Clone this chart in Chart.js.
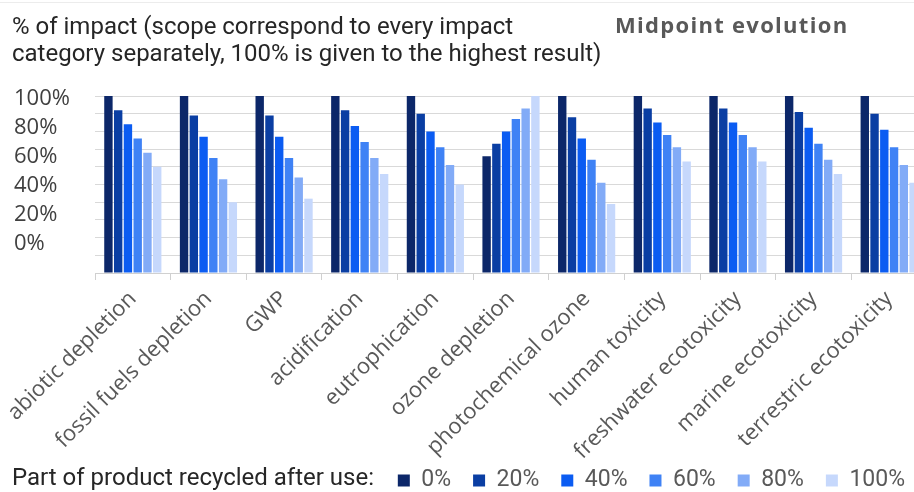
<!DOCTYPE html>
<html>
<head>
<meta charset="utf-8">
<script src="https://cdn.jsdelivr.net/npm/chart.js@4.4.1/dist/chart.umd.min.js"></script>
<style>
  html, body { margin: 0; padding: 0; background: #ffffff; overflow: hidden; }
  #wrap { position: relative; width: 927px; height: 492px; }
  canvas { position: absolute; left: 0; top: 0; }
  .rule { position: absolute; left: 0; top: 2px; width: 927px; height: 1px; background: #ececec; }
  .title { position: absolute; left: 12px; top: 13px; font-family: "Roboto", sans-serif; font-size: 24px; line-height: 27px; color: #262626; white-space: nowrap; }
  .head { position: absolute; left: 615px; top: 9px; font-family: "Open Sans", sans-serif; font-weight: bold; font-size: 22px; letter-spacing: 1.3px; color: #595959; white-space: nowrap; }
  .lead { position: absolute; left: 12px; top: 463px; font-family: "Roboto", sans-serif; font-size: 24px; line-height: 28px; color: #262626; white-space: nowrap; }
</style>
</head>
<body>
<div id="wrap">
  <canvas id="c" width="927" height="492"></canvas>
  <div class="rule"></div>
  <div class="title">% of impact (scope correspond to every impact<br>category separately, 100% is given to the highest result)</div>
  <div class="head">Midpoint evolution</div>
  <div class="lead">Part of product recycled after use:</div>
</div>
<script>
const categories = ['abiotic depletion', 'fossil fuels depletion', 'GWP', 'acidification', 'eutrophication', 'ozone depletion', 'photochemical ozone', 'human toxicity', 'freshwater ecotoxicity', 'marine ecotoxicity', 'terrestric ecotoxicity'];
const seriesLabels = ['0%', '20%', '40%', '60%', '80%', '100%'];
const recycled0   = [100, 100, 100, 100, 100, 66, 100, 100, 100, 100, 100];
const recycled20  = [92, 89, 89, 92, 90, 73, 88, 93, 93, 91, 90];
const recycled40  = [84, 77, 77, 83, 80, 80, 76, 85, 85, 82, 81];
const recycled60  = [76, 65, 65, 74, 71, 87, 64, 78, 78, 73, 71];
const recycled80  = [68, 53, 54, 65, 61, 93, 51, 71, 71, 64, 61];
const recycled100 = [60, 40, 42, 56, 50, 100, 39, 63, 63, 56, 51];
const yTickLabels = [0, 20, 40, 60, 80, 100];

const seriesValues = [recycled0, recycled20, recycled40, recycled60, recycled80, recycled100];
const colors = ['#0c2769', '#0a3ea3', '#0b5cf2', '#3f82f5', '#82abf7', '#c6d8fc'];

const chart = new Chart(document.getElementById('c'), {
  type: 'bar',
  data: {
    labels: categories,
    datasets: seriesValues.map((vals, i) => ({
      label: seriesLabels[i],
      data: vals,
      backgroundColor: colors[i],
      borderWidth: 0,
      barPercentage: 0.86,
      categoryPercentage: 0.774,
      yAxisID: 'y'
    }))
  },
  options: {
    responsive: false,
    animation: false,
    devicePixelRatio: 1,
    layout: { padding: { left: 14, top: 96, right: 0, bottom: -10 } },
    plugins: {
      tooltip: { enabled: false },
      legend: {
        position: 'bottom',
        align: 'end',
        labels: {
          boxWidth: 12,
          boxHeight: 12,
          padding: 22,
          color: '#595959',
          font: { family: '"Roboto", sans-serif', size: 23 }
        }
      }
    },
    scales: {
      x: {
        offset: true,
        grid: { offset: true, drawOnChartArea: false, drawTicks: true, tickLength: 7, color: '#d0d0d0' },
        border: { color: '#d0d0d0' },
        ticks: {
          minRotation: 45, maxRotation: 45, autoSkip: false,
          color: '#595959', padding: 6,
          font: { family: '"Open Sans", sans-serif', size: 22 }
        },
        afterFit: s => {
          s.height = 174; s.paddingLeft = 0; s.paddingRight = 0;
          s._computeLabelArea = () => undefined;
        }
      },
      y2: {
        position: 'left',
        min: -20.4, max: 102.1,
        grid: { display: false },
        border: { display: false },
        ticks: {
          color: '#404040', padding: 0, crossAlign: 'far',
          font: { family: '"Open Sans", sans-serif', size: 22 },
          callback: v => v + '%'
        },
        afterBuildTicks: s => { s.ticks = yTickLabels.map(v => ({ value: v })); },
        afterFit: s => { s.width = 81; }
      },
      y: {
        position: 'left',
        min: 0, max: 100,
        ticks: { display: false, stepSize: 10 },
        grid: { color: '#d9d9d9', drawTicks: false },
        border: { display: false },
        afterFit: s => { s.width = 0; }
      }
    }
  }
});
</script>
</body>
</html>
